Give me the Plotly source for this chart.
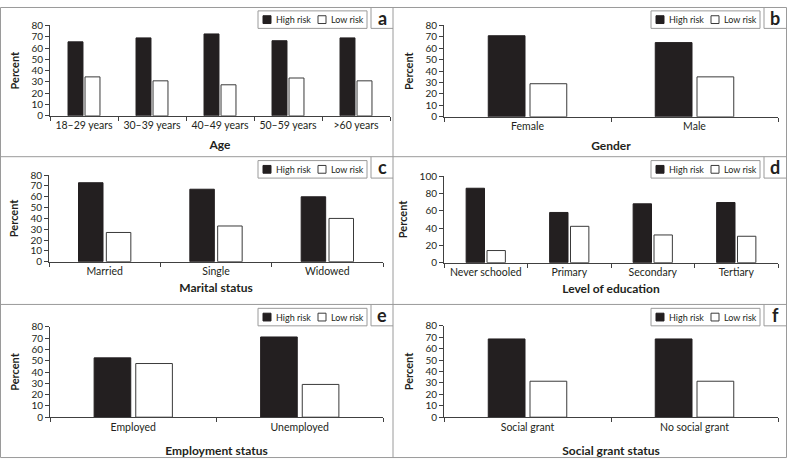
import plotly.graph_objects as go

# ---------------- data ----------------
age_cats = ["18–29 years", "30–39 years", "40–49 years", "50–59 years", ">60 years"]
age_high = [65.5, 69, 72.5, 66.5, 69]
age_low = [34.5, 31, 27.5, 33.5, 31]

gender_cats = ["Female", "Male"]
gender_high = [71, 65]
gender_low = [29, 35]

marital_cats = ["Married", "Single", "Widowed"]
marital_high = [73, 67, 60]
marital_low = [27, 33, 40]

edu_cats = ["Never schooled", "Primary", "Secondary", "Tertiary"]
edu_high = [86, 58, 68, 69.5]
edu_low = [14, 42, 32, 30.5]

emp_cats = ["Employed", "Unemployed"]
emp_high = [52.5, 71]
emp_low = [47.5, 29]

grant_cats = ["Social grant", "No social grant"]
grant_high = [68.5, 68.5]
grant_low = [31.5, 31.5]

series_names = ["High risk", "Low risk"]
panel_letters = ["a", "b", "c", "d", "e", "f"]
x_titles = ["Age", "Gender", "Marital status", "Level of education",
            "Employment status", "Social grant status"]
y_title = "Percent"
y_max = [80, 80, 80, 100, 80, 80]
y_dtick = [10, 10, 10, 20, 10, 10]

panels = [
    (age_cats, age_high, age_low),
    (gender_cats, gender_high, gender_low),
    (marital_cats, marital_high, marital_low),
    (edu_cats, edu_high, edu_low),
    (emp_cats, emp_high, emp_low),
    (grant_cats, grant_high, grant_low),
]

# ---------------- layout helpers (pixels -> paper) ----------------
W, H = 787, 465
def px(x):
    return x / W
def py(y):
    return 1 - y / H

# plot areas in pixels: (left, right, top, bottom)
areas = [
    (50, 390, 19, 112),
    (444, 778, 19, 113),
    (49, 383, 173, 262),
    (444, 778, 174, 263),
    (50, 383, 329, 422),
    (444, 778, 328, 422),
]
cell_tops = [0, 0, 154, 154, 306, 306]
cell_rights = [393, 786, 393, 786, 393, 786]
title_standoff = [10, 10, 7, 7, 14, 14]

FONT = "Lato"
TXT = "#231f20"
AXC = "#404040"
FRAME = "#9a9a9a"
DARK = "#231f20"

fig = go.Figure()
layout = dict(
    width=W, height=H,
    margin=dict(l=0, r=0, t=0, b=0),
    paper_bgcolor="white", plot_bgcolor="white",
    showlegend=False,
    barmode="group", bargap=0.5, bargroupgap=0.12,
    font=dict(family=FONT, color=TXT, size=10.5),
)

shapes = []
annotations = []

for i, (cats, hi, lo) in enumerate(panels):
    n = i + 1
    xa = "x" if n == 1 else f"x{n}"
    ya = "y" if n == 1 else f"y{n}"
    fig.add_trace(go.Bar(x=cats, y=hi, name=series_names[0], xaxis=xa, yaxis=ya,
                         marker=dict(color=DARK, line=dict(color=DARK, width=1))))
    fig.add_trace(go.Bar(x=cats, y=lo, name=series_names[1], xaxis=xa, yaxis=ya,
                         marker=dict(color="white", line=dict(color="#3a3a3a", width=1))))
    l, r, t, b = areas[i]
    xk = "xaxis" if n == 1 else f"xaxis{n}"
    yk = "yaxis" if n == 1 else f"yaxis{n}"
    layout[xk] = dict(
        domain=[px(l), px(r)], anchor=ya, type="category",
        showline=True, linecolor=AXC, linewidth=1,
        ticks="outside", tickson="boundaries", ticklen=4, tickcolor=AXC,
        tickangle=0,
        showgrid=False, zeroline=False,
        tickfont=dict(family=FONT, size=10.5, color=TXT),
        title=dict(text=x_titles[i], standoff=title_standoff[i],
                   font=dict(family=FONT, size=12, color=TXT, weight="bold")),
    )
    layout[yk] = dict(
        domain=[py(b), py(t)], anchor=xa,
        range=[0, y_max[i]], dtick=y_dtick[i], tick0=0,
        showline=True, linecolor=AXC, linewidth=1,
        ticks="outside", ticklen=4, tickcolor=AXC,
        showgrid=False, zeroline=False,
        tickfont=dict(family=FONT, size=10, color=TXT),
        title=dict(text=y_title, standoff=9,
                   font=dict(family=FONT, size=11, color=TXT, weight="bold")),
    )

    # legend box + panel letter box
    R = cell_rights[i]
    T = cell_tops[i]
    lab_l = R - 22
    leg_r = lab_l - 4
    leg_l = leg_r - 109
    leg_t, leg_b = T + 4, T + 22
    shapes.append(dict(type="rect", xref="paper", yref="paper",
                       x0=px(leg_l), x1=px(leg_r), y0=py(leg_b), y1=py(leg_t),
                       line=dict(color=FRAME, width=1), fillcolor="white"))
    cy = (leg_t + leg_b) / 2
    # high risk swatch
    shapes.append(dict(type="rect", xref="paper", yref="paper",
                       x0=px(leg_l + 5), x1=px(leg_l + 13), y0=py(cy + 4), y1=py(cy - 4),
                       line=dict(color=DARK, width=1), fillcolor=DARK))
    annotations.append(dict(xref="paper", yref="paper", x=px(leg_l + 16), y=py(cy),
                            xanchor="left", yanchor="middle", showarrow=False,
                            text=series_names[0], font=dict(family=FONT, size=9, color=TXT)))
    # low risk swatch
    shapes.append(dict(type="rect", xref="paper", yref="paper",
                       x0=px(leg_l + 60), x1=px(leg_l + 68), y0=py(cy + 4), y1=py(cy - 4),
                       line=dict(color="#3a3a3a", width=1), fillcolor="white"))
    annotations.append(dict(xref="paper", yref="paper", x=px(leg_l + 71), y=py(cy),
                            xanchor="left", yanchor="middle", showarrow=False,
                            text=series_names[1], font=dict(family=FONT, size=9, color=TXT)))
    # letter box (left and bottom borders)
    shapes.append(dict(type="line", xref="paper", yref="paper",
                       x0=px(lab_l), x1=px(lab_l), y0=py(T), y1=py(T + 22),
                       line=dict(color=FRAME, width=1)))
    shapes.append(dict(type="line", xref="paper", yref="paper",
                       x0=px(lab_l), x1=px(R), y0=py(T + 22), y1=py(T + 22),
                       line=dict(color=FRAME, width=1)))
    annotations.append(dict(xref="paper", yref="paper", x=px((lab_l + R) / 2), y=py(T + 11),
                            xanchor="center", yanchor="middle", showarrow=False,
                            text=f"<b>{panel_letters[i]}</b>",
                            font=dict(family=FONT, size=18, color=TXT)))

# frame and dividers
shapes.append(dict(type="rect", xref="paper", yref="paper",
                   x0=px(0.5), x1=px(786.5), y0=py(463.5), y1=py(0.5),
                   line=dict(color=FRAME, width=1)))
shapes.append(dict(type="line", xref="paper", yref="paper",
                   x0=px(393), x1=px(393), y0=py(0), y1=py(464),
                   line=dict(color=FRAME, width=1)))
for yy in (154, 306):
    shapes.append(dict(type="line", xref="paper", yref="paper",
                       x0=px(0), x1=px(787), y0=py(yy), y1=py(yy),
                       line=dict(color=FRAME, width=1)))

layout["shapes"] = shapes
layout["annotations"] = annotations
fig.update_layout(**layout)
fig.write_html("out.html", config={"displayModeBar": False})

# remove the browser's default page margin so the figure fills the window
with open("out.html", encoding="utf-8") as f:
    html = f.read()
html = html.replace("<head>", "<head><style>html,body{margin:0;padding:0;overflow:hidden;}</style>", 1)
with open("out.html", "w", encoding="utf-8") as f:
    f.write(html)
